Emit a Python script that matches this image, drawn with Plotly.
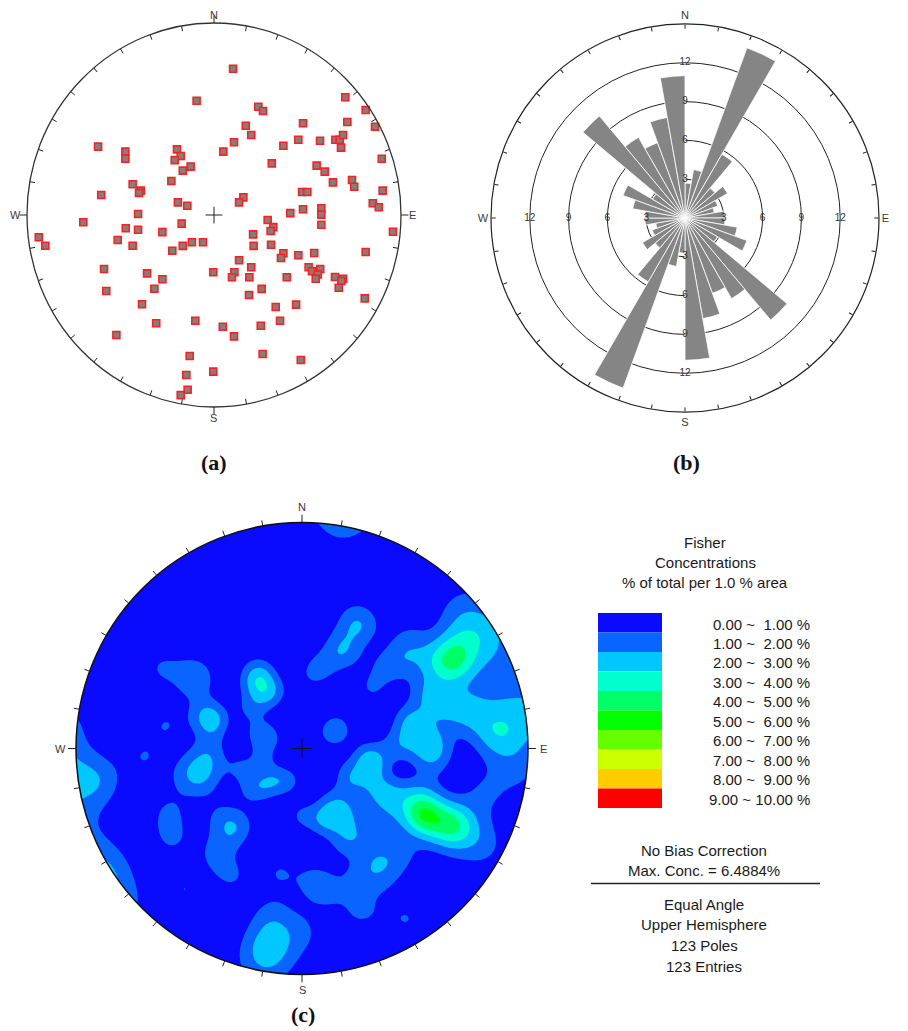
import numpy as np
import plotly.graph_objects as go

# page body has an 8px default margin, so the figure is drawn 8px smaller and
# all layout positions below (measured on the 908x1031 reference) are shifted by it
OFF = 8
W, H = 908 - OFF, 1031 - OFF

# ---------------- DATA ----------------
# Panel (a): poles read off the net, unit primitive circle (x = East, y = North)
pole_x = [-0.093, -0.620, -0.474, -0.474, -0.198, -0.178, -0.210, -0.125, -0.167, -0.228,
          -0.435, -0.392, -0.401, -0.603, -0.193, -0.143, -0.406, 0.102, 0.702, 0.811,
          0.237, 0.262, 0.170, 0.199, 0.476, 0.713, 0.861, 0.107, 0.050, 0.371,
          0.451, 0.567, 0.649, 0.672, 0.690, 0.679, 0.897, 0.309, 0.549, 0.592,
          0.636, 0.738, 0.750, 0.902, 0.471, 0.499, 0.157, 0.134, 0.849, 0.881,
          0.408, 0.476, 0.574, 0.574, 0.574, -0.699, -0.937, -0.902, -0.472, -0.406,
          -0.276, -0.173, -0.515, -0.435, -0.223, -0.167, -0.118, -0.059, -0.588, -0.358,
          -0.276, -0.319, -0.576, -0.385, -0.004, -0.309, -0.100, -0.522, -0.130, -0.004,
          -0.148, -0.141, -0.178, 0.287, 0.317, 0.303, 0.209, 0.212, 0.305, 0.957,
          0.811, 0.371, 0.358, 0.451, 0.536, 0.134, 0.109, 0.096, 0.199, 0.189,
          0.389, 0.506, 0.524, 0.568, 0.555, 0.544, 0.647, 0.690, 0.681, 0.667,
          0.255, 0.187, 0.806, 0.439, 0.330, 0.353, 0.047, 0.250, 0.107, 0.260,
          0.464]
pole_y = [0.595, 0.356, 0.330, 0.293, 0.342, 0.307, 0.286, 0.252, 0.231, 0.177,
          0.160, 0.127, 0.115, 0.104, 0.066, 0.048, 0.005, 0.762, 0.613, 0.547,
          0.564, 0.542, 0.465, 0.417, 0.478, 0.484, 0.460, 0.379, 0.330, 0.361,
          0.392, 0.387, 0.392, 0.392, 0.417, 0.351, 0.293, 0.269, 0.257, 0.226,
          0.170, 0.182, 0.147, 0.127, 0.120, 0.120, 0.092, 0.066, 0.061, 0.040,
          0.010, 0.030, 0.035, 0.002, -0.051, -0.038, -0.116, -0.160, -0.069, -0.077,
          -0.089, -0.045, -0.130, -0.160, -0.186, -0.161, -0.142, -0.142, -0.281, -0.304,
          -0.335, -0.384, -0.396, -0.465, -0.298, -0.564, -0.551, -0.625, -0.734, -0.816,
          -0.833, -0.910, -0.938, -0.026, -0.063, -0.083, -0.101, -0.161, -0.155, -0.087,
          -0.193, -0.199, -0.224, -0.210, -0.198, -0.236, -0.298, -0.324, -0.272, -0.324,
          -0.324, -0.272, -0.293, -0.281, -0.309, -0.332, -0.323, -0.332, -0.344, -0.379,
          -0.385, -0.417, -0.434, -0.467, -0.479, -0.551, -0.582, -0.577, -0.632, -0.724,
          -0.755]

# Panel (b): rose diagram, 10-degree bins (bidirectional)
rose_bin_centers = [5, 15, 25, 35, 45, 55, 65, 75, 85, 95, 105, 115, 125, 135, 145, 155, 165, 175]
rose_values = [2.7, 3.8, 14.0, 5.7, 3.0, 3.8, 2.7, 2.3, 3.1, 3.1, 4.1, 5.1, 2.9, 10.3, 7.2, 6.2, 7.9, 11.0]
rose_rings = [3, 6, 9, 12]
rose_outer = 15

# Panel (c): Fisher concentration legend
conc_levels = [1, 2, 3, 4, 5, 6, 7, 8, 9]
conc_colors = ["#0a0aff", "#0a64ff", "#00c8ff", "#00ffcc", "#00ff66",
               "#00ff00", "#66ff00", "#ccff00", "#ffcc00", "#ff0000"]
conc_labels = ["0.00 ~\u00a0 1.00 %", "1.00 ~\u00a0 2.00 %", "2.00 ~\u00a0 3.00 %",
               "3.00 ~\u00a0 4.00 %", "4.00 ~\u00a0 5.00 %", "5.00 ~\u00a0 6.00 %",
               "6.00 ~\u00a0 7.00 %", "7.00 ~\u00a0 8.00 %", "8.00 ~\u00a0 9.00 %",
               "9.00 ~ 10.00 %"]
title_lines = ["Fisher", "Concentrations", "% of total per 1.0 % area"]
info_top = ["No Bias Correction", "Max. Conc. = 6.4884%"]
info_bottom = ["Equal Angle", "Upper Hemisphere", "123 Poles", "123 Entries"]
fisher_K = 118.0
cardinals = ["N", "E", "S", "W"]

# ---------------- LAYOUT HELPERS ----------------
def px(x):
    return (x - OFF) / W

def py(y):
    return 1 - (y - OFF) / H

def dx(p0, p1):
    return [max(0.0, px(p0)), min(1.0, px(p1))]

def dy(p0, p1):
    return [max(0.0, py(p1)), min(1.0, py(p0))]

A_PX = 1.1            # (a) x range half-width
A_PTOP, A_PBOT = 1.06, 1.1
PAD_C = 1.1
A_CX, A_CY, A_RX, A_RY = 214, 215, 187, 192
C_CX, C_CY, C_R = 302, 748.5, 226
B_CX, B_CY, B_R = 685, 218, 194

FONT = "Liberation Sans, Arial, sans-serif"
SERIF = "Liberation Serif, Times New Roman, serif"

fig = go.Figure()

# ---------------- PANEL (a) ----------------
tx, ty = [], []
for a_deg in range(0, 360, 10):
    a = np.deg2rad(a_deg)
    r1 = 1.04 if a_deg % 90 == 0 else 0.972
    tx += [np.sin(a), r1 * np.sin(a), None]
    ty += [np.cos(a), r1 * np.cos(a), None]
fig.add_trace(go.Scatter(x=tx, y=ty, mode="lines", line=dict(color="#222", width=1),
                         xaxis="x", yaxis="y", hoverinfo="skip", showlegend=False, cliponaxis=False))
fig.add_trace(go.Scatter(x=pole_x, y=pole_y, mode="markers",
                         marker=dict(symbol="square", size=7, color="#808080",
                                     line=dict(color="#ff1f1f", width=1.6)),
                         xaxis="x", yaxis="y", hoverinfo="skip", showlegend=False))
fig.add_trace(go.Scatter(x=[0], y=[0], mode="markers",
                         marker=dict(symbol="cross-thin", size=12, line=dict(color="#222", width=1)),
                         xaxis="x", yaxis="y", hoverinfo="skip", showlegend=False))

# ---------------- PANEL (b) ----------------
lab_r, lab_t, lab_s = [], [], []
for th in [0, 90, 180, 270]:
    for rr in rose_rings:
        lab_r.append(rr); lab_t.append(th); lab_s.append(str(rr))
fig.add_trace(go.Scatterpolar(r=lab_r, theta=lab_t, text=lab_s, mode="text",
                              textfont=dict(family=FONT, size=10, color="#333"),
                              subplot="polar", cliponaxis=False, hoverinfo="skip", showlegend=False))
theta_all = list(rose_bin_centers) + [c + 180 for c in rose_bin_centers]
r_all = list(rose_values) + list(rose_values)
fig.add_trace(go.Barpolar(r=r_all, theta=theta_all, width=[10] * len(theta_all),
                          marker=dict(color="#858585", line=dict(color="white", width=0.8)),
                          subplot="polar", hoverinfo="skip", showlegend=False))
cr, ct = [], []
for th in [0, 90, 180, 270]:
    cr += [rose_outer, rose_outer * 1.03, None]
    ct += [th, th, None]
fig.add_trace(go.Scatterpolar(r=cr, theta=ct, mode="lines", line=dict(color="#222", width=1),
                              subplot="polar", cliponaxis=False, hoverinfo="skip", showlegend=False))

# ---------------- PANEL (c) ----------------
gx = np.linspace(-1, 1, 321)
GX, GY = np.meshgrid(gx, gx)

def to_vec(x, y):
    x = np.asarray(x, float); y = np.asarray(y, float)
    r2 = x * x + y * y
    v = np.stack([2 * x, 2 * y, 1 - r2], axis=-1)
    return v / (1 + r2)[..., None]

U = to_vec(GX, GY)
P = to_vec(pole_x, pole_y)
dots = np.abs(U @ P.T)
conc = fisher_K / len(pole_x) * np.exp(fisher_K * (dots - 1)).sum(axis=-1)

cscale = [[k / 9, conc_colors[k]] for k in range(10)]
fig.add_trace(go.Contour(x=gx, y=gx, z=conc, xaxis="x2", yaxis="y2",
                         autocontour=False,
                         contours=dict(start=conc_levels[0], end=conc_levels[-1], size=1,
                                       coloring="fill", showlines=False),
                         colorscale=cscale, showscale=False, line=dict(width=0),
                         hoverinfo="skip", showlegend=False))
fig.add_trace(go.Scatter(x=[0], y=[0], mode="markers",
                         marker=dict(symbol="cross-thin", size=14, line=dict(color="#111", width=1)),
                         xaxis="x2", yaxis="y2", hoverinfo="skip", showlegend=False))

shapes = []
shapes.append(dict(type="circle", xref="x", yref="y", x0=-1, y0=-1, x1=1, y1=1,
                   line=dict(color="#333", width=1.3)))
tt = np.linspace(2 * np.pi, 0, 241)
mask = "M -1.3,-1.3 L 1.3,-1.3 L 1.3,1.3 L -1.3,1.3 Z M " + " L ".join(
    f"{np.cos(t):.4f},{np.sin(t):.4f}" for t in tt) + " Z"
shapes.append(dict(type="path", xref="x2", yref="y2", path=mask, fillcolor="white",
                   line=dict(width=0), layer="above"))
shapes.append(dict(type="circle", xref="x2", yref="y2", x0=-1, y0=-1, x1=1, y1=1,
                   line=dict(color="#111", width=1.5), layer="above"))
tp = []
for a_deg in range(0, 360, 10):
    a = np.deg2rad(a_deg)
    r1 = 1.035 if a_deg % 90 == 0 else 1.025
    tp.append(f"M {np.sin(a):.4f},{np.cos(a):.4f} L {r1*np.sin(a):.4f},{r1*np.cos(a):.4f}")
shapes.append(dict(type="path", xref="x2", yref="y2", path=" ".join(tp),
                   line=dict(color="#222", width=1), layer="above"))

LX0, LX1, LY0, LH = 598, 662, 613, 19.5
for i, col in enumerate(conc_colors):
    y0 = LY0 + i * LH
    shapes.append(dict(type="rect", xref="paper", yref="paper",
                       x0=px(LX0), x1=px(LX1), y0=py(y0 + LH), y1=py(y0),
                       fillcolor=col, line=dict(width=0)))
shapes.append(dict(type="line", xref="paper", yref="paper", x0=px(591), x1=px(820),
                   y0=py(883.5), y1=py(883.5), line=dict(color="#222", width=1.5)))

ann = []
def txt(x, y, s, size=15, xanchor="center", family=FONT, color="#1a1a1a"):
    ann.append(dict(x=px(x), y=py(y), xref="paper", yref="paper", text=s, showarrow=False,
                    xanchor=xanchor, yanchor="middle", font=dict(family=family, size=size, color=color)))

for i, lab in enumerate(conc_labels):
    txt(812, 624 + i * 19.45, lab, xanchor="right")
for i, s in enumerate(title_lines):
    txt(705, 542 + i * 20, s)
for i, s in enumerate(info_top):
    txt(704, 850 + i * 20.3, s)
for i, s in enumerate(info_bottom):
    txt(704, 904 + i * 20.7, s)

# cardinal labels: (a) positions within its axis ranges, (c) around primitive
card_a = {"N": (0, 1.043), "E": (1.06, 0), "S": (0, -1.055), "W": (-1.06, 0)}
card_c = {"N": (0, 1.07), "E": (1.07, 0), "S": (0, -1.07), "W": (-1.07, 0)}
for c in cardinals:
    ann.append(dict(x=card_a[c][0], y=card_a[c][1], xref="x", yref="y", text=c, showarrow=False,
                    font=dict(family=FONT, size=11, color="#3a3a3a")))
    ann.append(dict(x=card_c[c][0], y=card_c[c][1], xref="x2", yref="y2", text=c, showarrow=False,
                    font=dict(family=FONT, size=11, color="#3a3a3a")))

txt(214, 462, "<b>(a)</b>", size=22, family=SERIF, color="#111")
txt(686, 462, "<b>(b)</b>", size=22, family=SERIF, color="#111")
txt(303, 1014, "<b>(c)</b>", size=22, family=SERIF, color="#111")

fig.update_layout(
    width=W, height=H, margin=dict(l=0, r=0, t=0, b=0),
    paper_bgcolor="white", plot_bgcolor="white", showlegend=False,
    xaxis=dict(domain=dx(A_CX - A_PX * A_RX, A_CX + A_PX * A_RX), range=[-A_PX, A_PX],
               visible=False, anchor="y", fixedrange=True),
    yaxis=dict(domain=dy(A_CY - A_PTOP * A_RY, A_CY + A_PBOT * A_RY), range=[-A_PBOT, A_PTOP],
               visible=False, anchor="x", fixedrange=True),
    xaxis2=dict(domain=dx(C_CX - PAD_C * C_R, C_CX + PAD_C * C_R), range=[-PAD_C, PAD_C],
                visible=False, anchor="y2", fixedrange=True),
    yaxis2=dict(domain=dy(C_CY - PAD_C * C_R, C_CY + PAD_C * C_R), range=[-PAD_C, PAD_C],
                visible=False, anchor="x2", fixedrange=True),
    polar=dict(
        domain=dict(x=dx(B_CX - B_R, B_CX + B_R), y=dy(B_CY - B_R, B_CY + B_R)),
        bgcolor="white", bargap=0,
        radialaxis=dict(range=[0, rose_outer], tickvals=rose_rings, showticklabels=False,
                        showline=False, ticks="", gridcolor="#222", gridwidth=1),
        angularaxis=dict(direction="clockwise", rotation=90, tickmode="array",
                         tickvals=list(range(0, 360, 10)),
                         ticktext=[{0: "N", 90: "E", 180: "S", 270: "W"}.get(v, "") for v in range(0, 360, 10)],
                         ticks="inside", ticklen=4, tickcolor="#222", showgrid=False,
                         linecolor="#222", linewidth=1.2,
                         tickfont=dict(family=FONT, size=11, color="#3a3a3a")),
    ),
    shapes=shapes, annotations=ann,
)

fig.write_html("out.html")
